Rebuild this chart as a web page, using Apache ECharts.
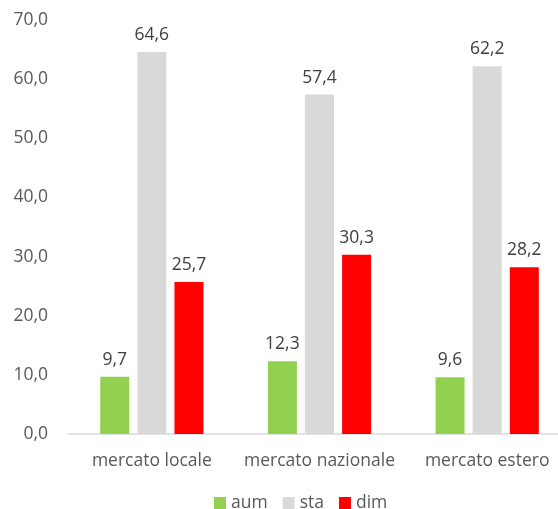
<!DOCTYPE html>
<html>
<head>
<meta charset="utf-8">
<script src="https://cdn.jsdelivr.net/npm/echarts@6/dist/echarts.min.js"></script>
<style>html,body{margin:0;padding:0;background:#fff;}#c{width:558px;height:509px;}</style>
</head>
<body>
<div id="c"></div>
<script>
const categories = ['mercato locale', 'mercato nazionale', 'mercato estero'];
const aum = [9.7, 12.3, 9.6];
const sta = [64.6, 57.4, 62.2];
const dim = [25.7, 30.3, 28.2];
const yTicks = [0, 10, 20, 30, 40, 50, 60, 70];

const fmt = v => Number(v).toFixed(1).replace('.', ',');
const font = '"Open Sans", sans-serif';
const chart = echarts.init(document.getElementById('c'));
const lbl = {show: true, position: 'top', distance: 8, color: '#404040', fontSize: 17.5, fontFamily: font,
  formatter: p => fmt(p.value)};
function s(name, data, color) {
  return {name, type: 'bar', data, barWidth: 29, barGap: '28%', itemStyle: {color}, label: lbl};
}
chart.setOption({
  animation: false,
  textStyle: {fontFamily: font},
  grid: {left: 68, top: 20, bottom: 75, right: -13, outerBoundsMode: 'none', containLabel: false},
  legend: {top: 494, left: 214, padding: 0, itemWidth: 12, itemHeight: 12, itemGap: 15,
    textStyle: {color: '#595959', fontSize: 17.5, fontFamily: font},
    data: ['aum', 'sta', 'dim'], icon: 'rect'},
  xAxis: {type: 'category', data: categories,
    axisLine: {lineStyle: {color: '#d9d9d9', width: 1.5}}, axisTick: {show: false},
    axisLabel: {color: '#595959', fontSize: 17.5, fontFamily: font, margin: 18, interval: 0}},
  yAxis: {type: 'value', min: yTicks[0], max: yTicks[yTicks.length - 1], interval: 10,
    splitLine: {show: false}, axisLine: {show: false}, axisTick: {show: false},
    axisLabel: {color: '#595959', fontSize: 17.5, fontFamily: font, margin: 20, formatter: v => fmt(v)}},
  series: [s('aum', aum, '#92d050'), s('sta', sta, '#d9d9d9'), s('dim', dim, '#ff0000')]
});
</script>
</body>
</html>
